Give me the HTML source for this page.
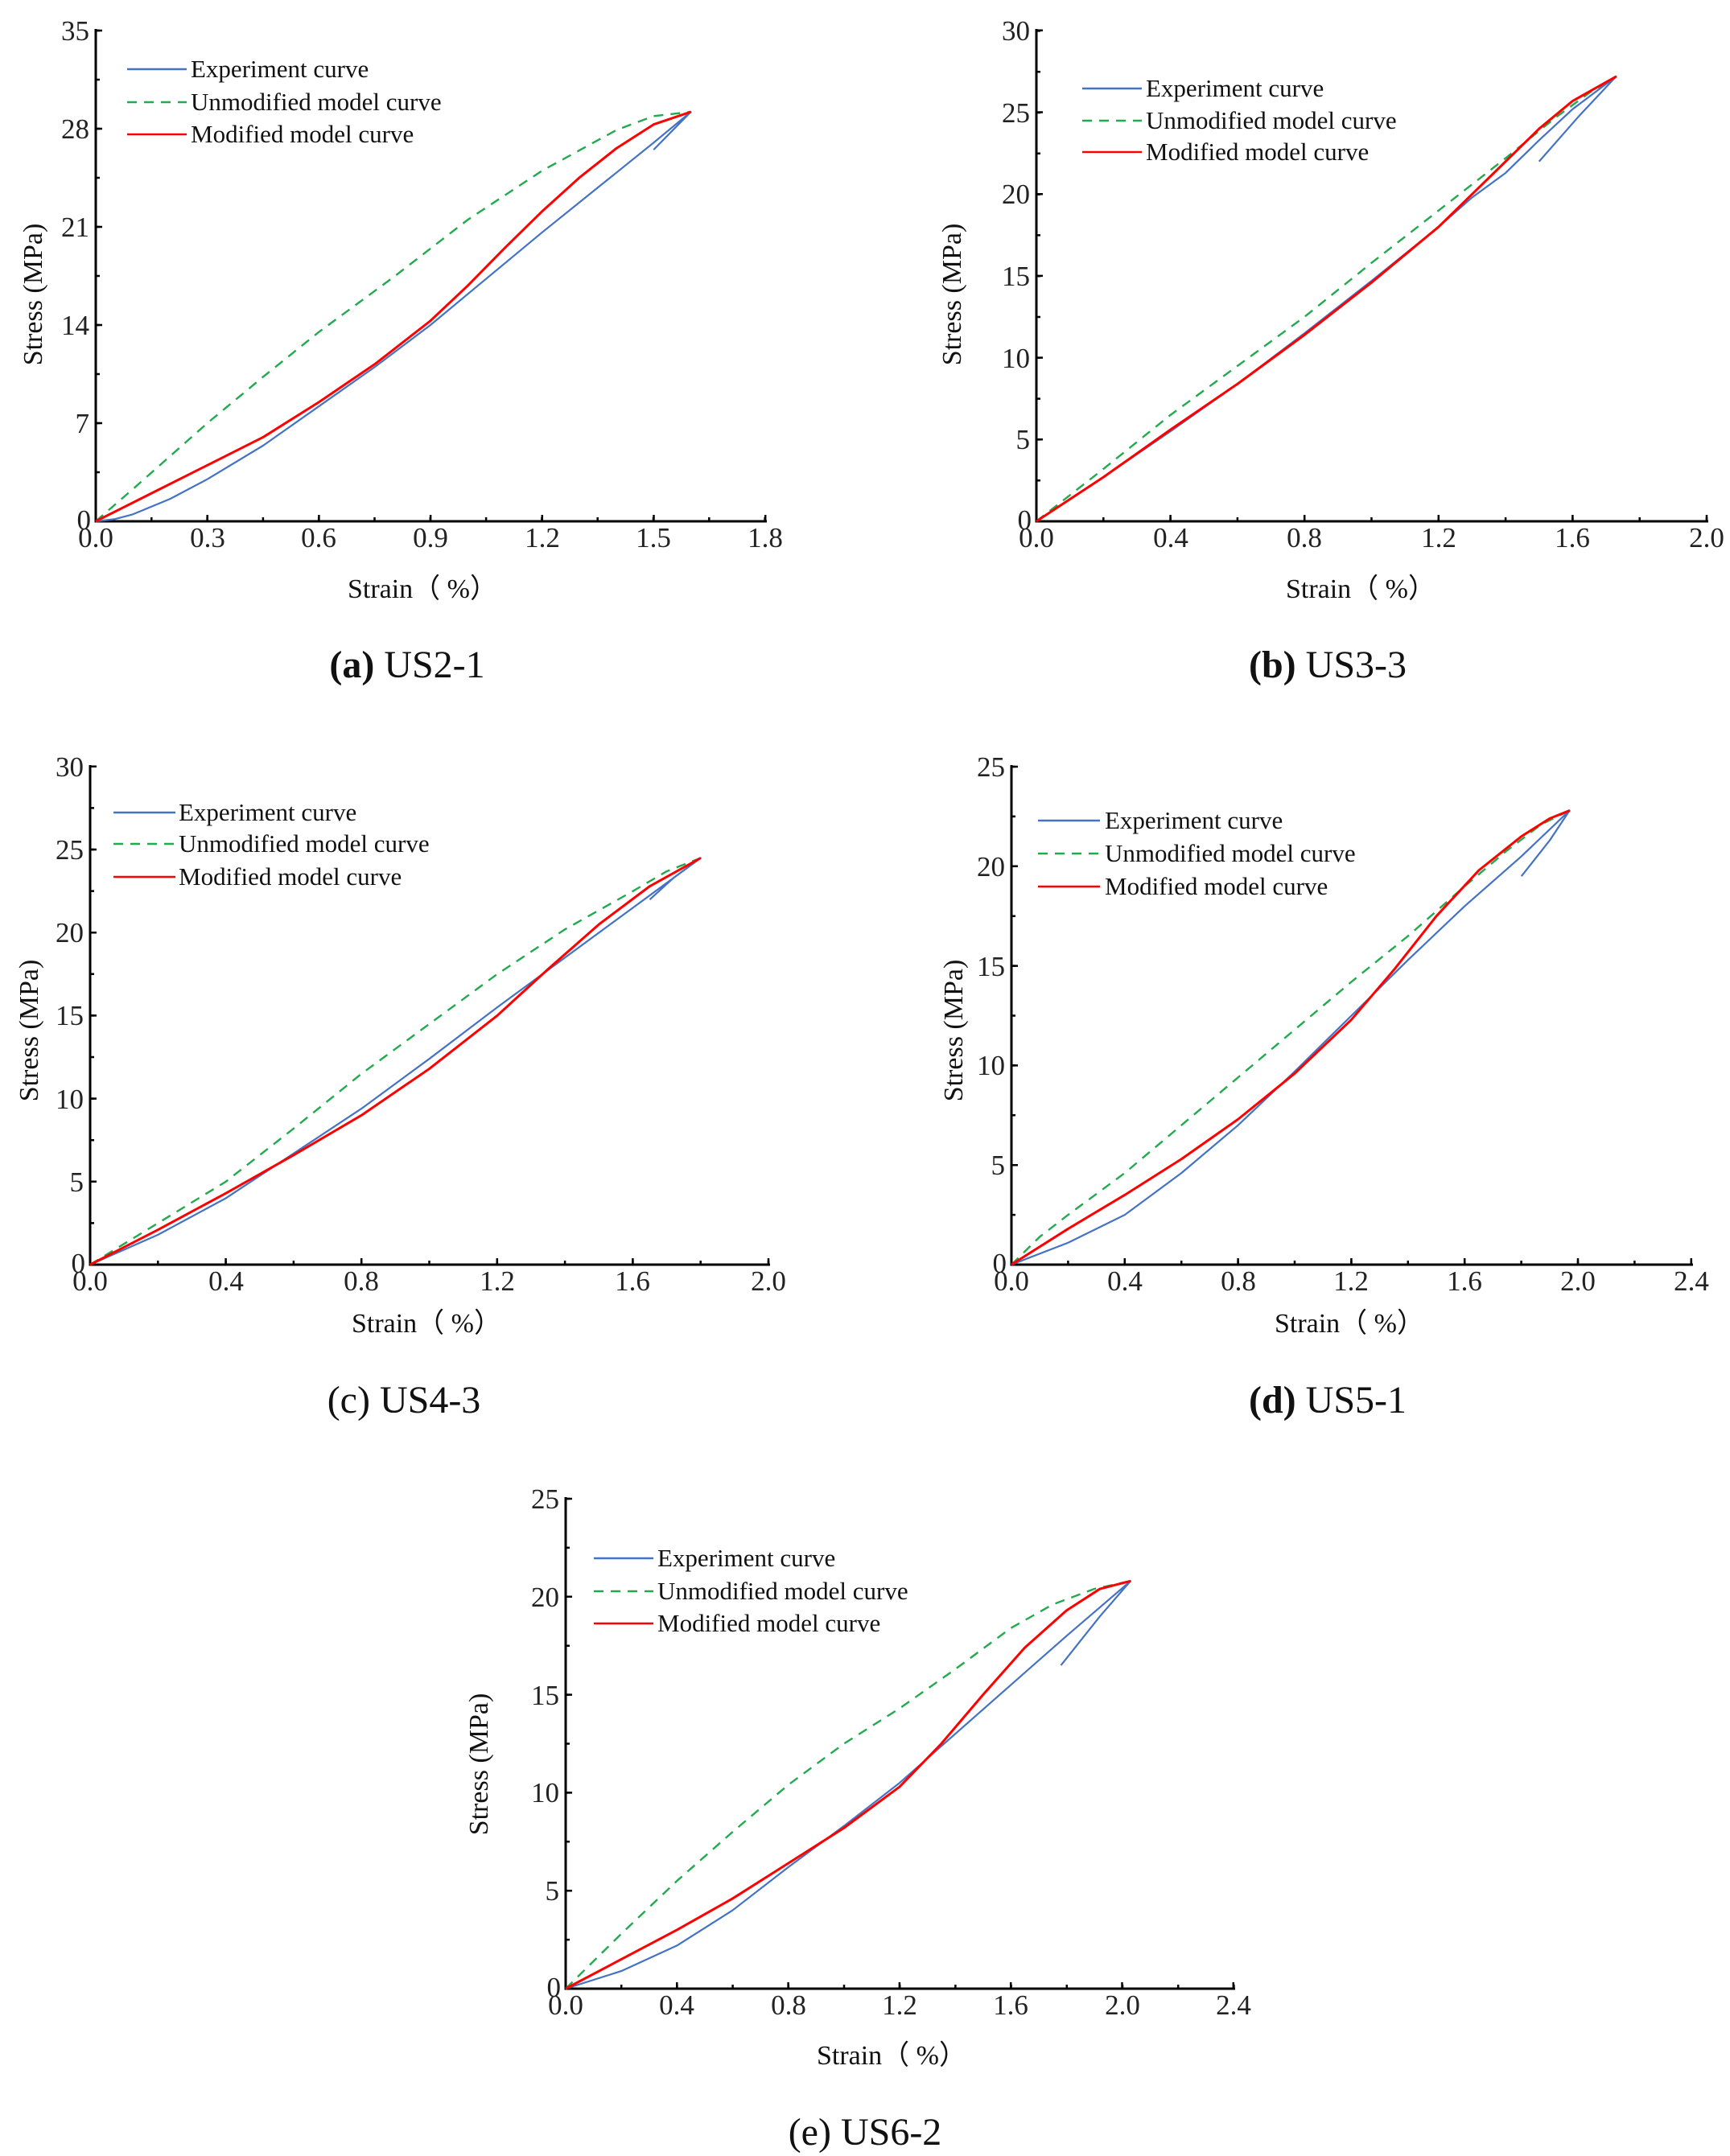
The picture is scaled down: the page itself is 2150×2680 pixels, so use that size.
<!DOCTYPE html>
<html><head><meta charset="utf-8"><style>
html,body{margin:0;padding:0;background:#fff;}
svg{display:block;font-family:"Liberation Serif",serif;}
.ax{stroke:#000;stroke-width:3;fill:none}
.tl{font-size:35px;fill:#222}
.lg{font-size:31px;fill:#111}
.al{font-size:34px;fill:#111}
.cap{font-size:48px;fill:#111}
.e{fill:none;stroke:#4472c4;stroke-width:2.2;vector-effect:non-scaling-stroke;stroke-linejoin:round}
.u{fill:none;stroke:#22aa4e;stroke-width:2.4;stroke-dasharray:12 9;vector-effect:non-scaling-stroke}
.m{fill:none;stroke:#ff0000;stroke-width:3;vector-effect:non-scaling-stroke;stroke-linejoin:round}
</style></head><body>
<svg width="2150" height="2680" viewBox="0 0 2150 2680">
<!-- (a) -->
<g transform="translate(119,648)">
<line class="ax" x1="0" y1="1.5" x2="0" y2="-612"/>
<line class="ax" x1="-1.5" y1="0" x2="834" y2="0"/>
<line x1="-1.25" y1="-4" x2="834" y2="-4" stroke="#000" stroke-width="8" stroke-dasharray="2.5 136.2"/>
<line x1="-1.25" y1="-2.5" x2="834" y2="-2.5" stroke="#000" stroke-width="5" stroke-dasharray="2.5 66.8"/>
<line x1="4" y1="1.25" x2="4" y2="-612" stroke="#000" stroke-width="8" stroke-dasharray="2.5 119.5"/>
<line x1="2.5" y1="1.25" x2="2.5" y2="-612" stroke="#000" stroke-width="5" stroke-dasharray="2.5 58.5"/>
<g class="tl" text-anchor="middle"><text x="0" y="32">0.0</text><text x="139" y="32">0.3</text><text x="277" y="32">0.6</text><text x="416" y="32">0.9</text><text x="555" y="32">1.2</text><text x="693" y="32">1.5</text><text x="832" y="32">1.8</text></g>
<g class="tl" text-anchor="end"><text x="-6" y="10">0</text><text x="-8" y="-110">7</text><text x="-8" y="-232">14</text><text x="-8" y="-354">21</text><text x="-8" y="-476">28</text><text x="-8" y="-598">35</text></g>
<g transform="scale(462.2,-17.43)">
<polyline class="u" points="0,0 0.1,2.3 0.3,7 0.45,10.3 0.6,13.5 0.8,17.4 1.0,21.5 1.2,25 1.4,27.9 1.5,28.9 1.6,29.2"/>
<polyline class="e" points="0,0 0.05,0.15 0.1,0.5 0.2,1.6 0.3,3 0.45,5.4 0.6,8.2 0.75,11 0.9,14 1.05,17.3 1.2,20.6 1.35,23.8 1.5,27 1.6,29.2 1.5,26.5"/>
<polyline class="m" points="0,0 0.15,2 0.3,4 0.45,6 0.6,8.5 0.75,11.2 0.9,14.3 1.0,16.8 1.1,19.5 1.2,22.1 1.3,24.5 1.4,26.6 1.5,28.3 1.6,29.2"/>
</g>
</g>
<g class="lg"><line x1="158" y1="86" x2="232" y2="86" stroke="#4472c4" stroke-width="2.5"/><text x="237" y="96">Experiment curve</text>
<line x1="158" y1="127" x2="232" y2="127" stroke="#22aa4e" stroke-width="2.5" stroke-dasharray="12 9"/><text x="237" y="137">Unmodified model curve</text>
<line x1="158" y1="167" x2="232" y2="167" stroke="#ff0000" stroke-width="2.5"/><text x="237" y="177">Modified model curve</text></g>
<text class="al" transform="translate(52,366) rotate(-90)" text-anchor="middle">Stress (MPa)</text>
<text class="al" x="525" y="743" text-anchor="middle">Strain（ %）</text>
<text class="cap" x="506" y="842" text-anchor="middle"><tspan font-weight="bold">(a)</tspan> US2-1</text>

<!-- (b) -->
<g transform="translate(1288,648)">
<line class="ax" x1="0" y1="1.5" x2="0" y2="-612"/>
<line class="ax" x1="-1.5" y1="0" x2="835" y2="0"/>
<line x1="-1.25" y1="-4" x2="835" y2="-4" stroke="#000" stroke-width="8" stroke-dasharray="2.5 164.1"/>
<line x1="-1.25" y1="-2.5" x2="835" y2="-2.5" stroke="#000" stroke-width="5" stroke-dasharray="2.5 80.8"/>
<line x1="4" y1="1.25" x2="4" y2="-612" stroke="#000" stroke-width="8" stroke-dasharray="2.5 99.2"/>
<line x1="2.5" y1="1.25" x2="2.5" y2="-612" stroke="#000" stroke-width="5" stroke-dasharray="2.5 48.3"/>
<g class="tl" text-anchor="middle"><text x="0" y="32">0.0</text><text x="167" y="32">0.4</text><text x="333" y="32">0.8</text><text x="500" y="32">1.2</text><text x="666" y="32">1.6</text><text x="833" y="32">2.0</text></g>
<g class="tl" text-anchor="end"><text x="-6" y="10">0</text><text x="-8" y="-90">5</text><text x="-8" y="-191">10</text><text x="-8" y="-293">15</text><text x="-8" y="-395">20</text><text x="-8" y="-496">25</text><text x="-8" y="-598">30</text></g>
<g transform="scale(416.5,-20.33)">
<polyline class="u" points="0,0 0.2,3.2 0.4,6.5 0.6,9.5 0.8,12.5 1.0,15.8 1.2,19 1.4,22.2 1.55,24.7 1.65,26.2 1.73,27.2"/>
<polyline class="e" points="0,0 0.2,2.7 0.4,5.5 0.6,8.4 0.8,11.5 1.0,14.7 1.2,18 1.3,19.8 1.4,21.3 1.5,23.3 1.6,25.2 1.73,27.2 1.62,24.8 1.5,22"/>
<polyline class="m" points="0,0 0.2,2.7 0.4,5.6 0.6,8.4 0.8,11.4 1.0,14.6 1.2,18 1.3,20 1.4,22 1.5,24 1.6,25.7 1.73,27.2"/>
</g>
</g>
<g class="lg"><line x1="1345" y1="110" x2="1419" y2="110" stroke="#4472c4" stroke-width="2.5"/><text x="1424" y="120">Experiment curve</text>
<line x1="1345" y1="150" x2="1419" y2="150" stroke="#22aa4e" stroke-width="2.5" stroke-dasharray="12 9"/><text x="1424" y="160">Unmodified model curve</text>
<line x1="1345" y1="189" x2="1419" y2="189" stroke="#ff0000" stroke-width="2.5"/><text x="1424" y="199">Modified model curve</text></g>
<text class="al" transform="translate(1194,366) rotate(-90)" text-anchor="middle">Stress (MPa)</text>
<text class="al" x="1691" y="743" text-anchor="middle">Strain（ %）</text>
<text class="cap" x="1650" y="842" text-anchor="middle"><tspan font-weight="bold">(b)</tspan> US3-3</text>

<!-- (c) -->
<g transform="translate(112,1572)">
<line class="ax" x1="0" y1="1.5" x2="0" y2="-621"/>
<line class="ax" x1="-1.5" y1="0" x2="845" y2="0"/>
<line x1="-1.25" y1="-4" x2="845" y2="-4" stroke="#000" stroke-width="8" stroke-dasharray="2.5 166.1"/>
<line x1="-1.25" y1="-2.5" x2="845" y2="-2.5" stroke="#000" stroke-width="5" stroke-dasharray="2.5 81.8"/>
<line x1="4" y1="1.25" x2="4" y2="-621" stroke="#000" stroke-width="8" stroke-dasharray="2.5 100.7"/>
<line x1="2.5" y1="1.25" x2="2.5" y2="-621" stroke="#000" stroke-width="5" stroke-dasharray="2.5 49.1"/>
<g class="tl" text-anchor="middle"><text x="0" y="32">0.0</text><text x="169" y="32">0.4</text><text x="337" y="32">0.8</text><text x="506" y="32">1.2</text><text x="674" y="32">1.6</text><text x="843" y="32">2.0</text></g>
<g class="tl" text-anchor="end"><text x="-6" y="10">0</text><text x="-8" y="-91">5</text><text x="-8" y="-194">10</text><text x="-8" y="-298">15</text><text x="-8" y="-401">20</text><text x="-8" y="-504">25</text><text x="-8" y="-607">30</text></g>
<g transform="scale(421.5,-20.63)">
<polyline class="u" points="0,0 0.2,2.5 0.4,5 0.6,8.2 0.8,11.5 1.0,14.5 1.2,17.5 1.4,20.2 1.6,22.5 1.7,23.7 1.8,24.5"/>
<polyline class="e" points="0,0 0.2,1.8 0.4,4 0.6,6.7 0.8,9.4 1.0,12.4 1.2,15.5 1.4,18.5 1.6,21.5 1.8,24.5 1.72,23.3 1.65,22"/>
<polyline class="m" points="0,0 0.2,2.1 0.4,4.3 0.6,6.6 0.8,9 1.0,11.8 1.2,15 1.35,17.8 1.5,20.5 1.65,22.8 1.8,24.5"/>
</g>
</g>
<g class="lg"><line x1="141" y1="1010" x2="218" y2="1010" stroke="#4472c4" stroke-width="2.5"/><text x="222" y="1020">Experiment curve</text>
<line x1="141" y1="1049" x2="218" y2="1049" stroke="#22aa4e" stroke-width="2.5" stroke-dasharray="12 9"/><text x="222" y="1059">Unmodified model curve</text>
<line x1="141" y1="1090" x2="218" y2="1090" stroke="#ff0000" stroke-width="2.5"/><text x="222" y="1100">Modified model curve</text></g>
<text class="al" transform="translate(47,1281) rotate(-90)" text-anchor="middle">Stress (MPa)</text>
<text class="al" x="530" y="1656" text-anchor="middle">Strain（ %）</text>
<text class="cap" x="502" y="1756" text-anchor="middle">(c) US4-3</text>

<!-- (d) -->
<g transform="translate(1257,1572)">
<line class="ax" x1="0" y1="1.5" x2="0" y2="-621"/>
<line class="ax" x1="-1.5" y1="0" x2="847" y2="0"/>
<line x1="-1.25" y1="-4" x2="847" y2="-4" stroke="#000" stroke-width="8" stroke-dasharray="2.5 138.3"/>
<line x1="-1.25" y1="-2.5" x2="847" y2="-2.5" stroke="#000" stroke-width="5" stroke-dasharray="2.5 67.9"/>
<line x1="4" y1="1.25" x2="4" y2="-621" stroke="#000" stroke-width="8" stroke-dasharray="2.5 121.3"/>
<line x1="2.5" y1="1.25" x2="2.5" y2="-621" stroke="#000" stroke-width="5" stroke-dasharray="2.5 59.4"/>
<g class="tl" text-anchor="middle"><text x="0" y="32">0.0</text><text x="141" y="32">0.4</text><text x="282" y="32">0.8</text><text x="422" y="32">1.2</text><text x="563" y="32">1.6</text><text x="704" y="32">2.0</text><text x="845" y="32">2.4</text></g>
<g class="tl" text-anchor="end"><text x="-6" y="10">0</text><text x="-8" y="-112">5</text><text x="-8" y="-236">10</text><text x="-8" y="-359">15</text><text x="-8" y="-483">20</text><text x="-8" y="-607">25</text></g>
<g transform="scale(352.1,-24.76)">
<polyline class="u" points="0,0 0.1,1.4 0.2,2.5 0.4,4.6 0.6,7 0.8,9.4 1.0,11.8 1.2,14.2 1.4,16.5 1.6,19 1.75,20.8 1.87,22.1 1.97,22.8"/>
<polyline class="e" points="0,0 0.2,1.1 0.4,2.5 0.6,4.6 0.8,7 1.0,9.7 1.2,12.5 1.4,15.3 1.6,18 1.8,20.5 1.97,22.8 1.9,21.3 1.8,19.5"/>
<polyline class="m" points="0,0 0.2,1.8 0.4,3.5 0.6,5.3 0.8,7.3 1.0,9.6 1.2,12.3 1.35,14.8 1.5,17.5 1.65,19.8 1.8,21.5 1.9,22.4 1.97,22.8"/>
</g>
</g>
<g class="lg"><line x1="1290" y1="1020" x2="1367" y2="1020" stroke="#4472c4" stroke-width="2.5"/><text x="1373" y="1030">Experiment curve</text>
<line x1="1290" y1="1061" x2="1367" y2="1061" stroke="#22aa4e" stroke-width="2.5" stroke-dasharray="12 9"/><text x="1373" y="1071">Unmodified model curve</text>
<line x1="1290" y1="1102" x2="1367" y2="1102" stroke="#ff0000" stroke-width="2.5"/><text x="1373" y="1112">Modified model curve</text></g>
<text class="al" transform="translate(1196,1281) rotate(-90)" text-anchor="middle">Stress (MPa)</text>
<text class="al" x="1677" y="1656" text-anchor="middle">Strain（ %）</text>
<text class="cap" x="1650" y="1756" text-anchor="middle"><tspan font-weight="bold">(d)</tspan> US5-1</text>

<!-- (e) -->
<g transform="translate(703,2472)">
<line class="ax" x1="0" y1="1.5" x2="0" y2="-611"/>
<line class="ax" x1="-1.5" y1="0" x2="832" y2="0"/>
<line x1="-1.25" y1="-4" x2="832" y2="-4" stroke="#000" stroke-width="8" stroke-dasharray="2.5 135.8"/>
<line x1="-1.25" y1="-2.5" x2="832" y2="-2.5" stroke="#000" stroke-width="5" stroke-dasharray="2.5 66.7"/>
<line x1="4" y1="1.25" x2="4" y2="-611" stroke="#000" stroke-width="8" stroke-dasharray="2.5 119.3"/>
<line x1="2.5" y1="1.25" x2="2.5" y2="-611" stroke="#000" stroke-width="5" stroke-dasharray="2.5 58.4"/>
<g class="tl" text-anchor="middle"><text x="0" y="32">0.0</text><text x="138" y="32">0.4</text><text x="277" y="32">0.8</text><text x="415" y="32">1.2</text><text x="553" y="32">1.6</text><text x="692" y="32">2.0</text><text x="830" y="32">2.4</text></g>
<g class="tl" text-anchor="end"><text x="-6" y="10">0</text><text x="-8" y="-110">5</text><text x="-8" y="-232">10</text><text x="-8" y="-353">15</text><text x="-8" y="-475">20</text><text x="-8" y="-597">25</text></g>
<g transform="scale(345.8,-24.36)">
<polyline class="u" points="0,0 0.2,2.8 0.4,5.5 0.6,8 0.8,10.4 1.0,12.5 1.2,14.3 1.4,16.3 1.6,18.4 1.75,19.6 1.9,20.4 2.03,20.8"/>
<polyline class="e" points="0,0 0.2,0.9 0.4,2.2 0.6,4 0.8,6.2 1.0,8.3 1.2,10.5 1.4,13 1.6,15.5 1.8,18 2.03,20.8 1.92,19 1.78,16.5"/>
<polyline class="m" points="0,0 0.2,1.5 0.4,3 0.6,4.6 0.8,6.4 1.0,8.2 1.2,10.3 1.35,12.5 1.5,15 1.65,17.4 1.8,19.3 1.92,20.4 2.03,20.8"/>
</g>
</g>
<g class="lg"><line x1="738" y1="1937" x2="812" y2="1937" stroke="#4472c4" stroke-width="2.5"/><text x="817" y="1947">Experiment curve</text>
<line x1="738" y1="1978" x2="812" y2="1978" stroke="#22aa4e" stroke-width="2.5" stroke-dasharray="12 9"/><text x="817" y="1988">Unmodified model curve</text>
<line x1="738" y1="2018" x2="812" y2="2018" stroke="#ff0000" stroke-width="2.5"/><text x="817" y="2028">Modified model curve</text></g>
<text class="al" transform="translate(606,2193) rotate(-90)" text-anchor="middle">Stress (MPa)</text>
<text class="al" x="1108" y="2566" text-anchor="middle">Strain（ %）</text>
<text class="cap" x="1075" y="2666" text-anchor="middle">(e) US6-2</text>
</svg>
</body></html>
